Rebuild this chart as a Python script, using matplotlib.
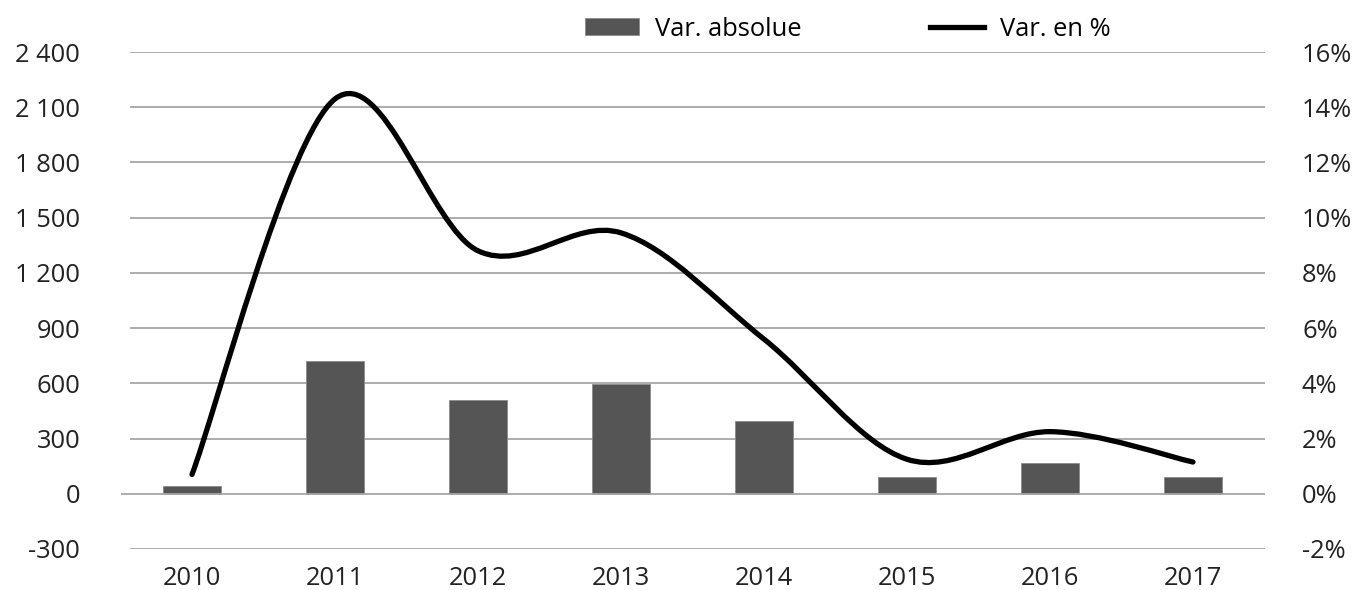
import matplotlib
matplotlib.use("Agg")
from matplotlib import pyplot as plt
from matplotlib.path import Path
from matplotlib.patches import PathPatch, Patch
from matplotlib.lines import Line2D
import numpy as np

# data
years = ["2010", "2011", "2012", "2013", "2014", "2015", "2016", "2017"]
var_abs = [40, 720, 508, 598, 394, 91, 167, 90]
var_pct = [0.7, 14.3, 8.8, 9.45, 5.6, 1.25, 2.25, 1.15]
left_ticks = [-300, 0, 300, 600, 900, 1200, 1500, 1800, 2100, 2400]
right_ticks = [-2, 0, 2, 4, 6, 8, 10, 12, 14, 16]

plt.rcParams['font.family'] = ['Open Sans', 'DejaVu Sans']
W, H = 1358, 590
fig = plt.figure(figsize=(W / 100, H / 100), dpi=100)

# plot area in pixels
x0, x1 = 120.5, 1264.5
ytop, ybot = 52, 549
ax = fig.add_axes([x0 / W, 1 - ybot / H, (x1 - x0) / W, (ybot - ytop) / H])
ax2 = ax.twinx()

xs = np.arange(len(years))
ax.set_xlim(-0.5, len(years) - 0.5)
ax.set_ylim(-300, 2400)
ax2.set_ylim(-2, 16)

grid_col = "#a6a6a6"
for v in left_ticks:
    if v == 0:
        continue
    ax.axhline(v, xmin=0.009, xmax=1.0, color=grid_col, lw=1.3, zorder=0)
ax.axhline(0, xmin=0.0, xmax=1.0, color=grid_col, lw=1.3, zorder=3)

ax.bar(xs, var_abs, width=0.40, color="#555555", edgecolor="#8a8a8a",
       linewidth=0.6, zorder=2)

# smoothed line (Catmull-Rom style bezier, like spreadsheet smoothing)
pts = list(zip(xs.astype(float), var_pct))
verts = [pts[0]]
codes = [Path.MOVETO]
n = len(pts)
for i in range(n - 1):
    p0 = pts[i - 1] if i > 0 else pts[i]
    p1 = pts[i]
    p2 = pts[i + 1]
    p3 = pts[i + 2] if i + 2 < n else pts[i + 1]
    c1 = (p1[0] + (p2[0] - p0[0]) / 6, p1[1] + (p2[1] - p0[1]) / 6)
    c2 = (p2[0] - (p3[0] - p1[0]) / 6, p2[1] - (p3[1] - p1[1]) / 6)
    verts += [c1, c2, p2]
    codes += [Path.CURVE4] * 3
ax2.add_patch(PathPatch(Path(verts, codes), facecolor="none",
                        edgecolor="black", lw=3.8, capstyle="round",
                        zorder=5))

fs = 18.4
tick_kw = dict(labelsize=fs, colors="#222222", length=0)
ax.set_yticks(left_ticks)
ax.set_yticklabels([f"{v:,}".replace(",", " ") for v in left_ticks])
ax.tick_params(axis="y", pad=29, **tick_kw)
ax.set_xticks(xs)
ax.set_xticklabels(years)
ax.tick_params(axis="x", pad=12, **tick_kw)

ax2.set_yticks(right_ticks)
ax2.set_yticklabels([f"{v}%" for v in right_ticks])
ax2.tick_params(axis="y", pad=27, **tick_kw)

for a in (ax, ax2):
    for s in a.spines.values():
        s.set_visible(False)
ax.set_zorder(ax2.get_zorder() - 1)
ax2.patch.set_visible(False)

handles = [Patch(facecolor="#555555", edgecolor="#8a8a8a", lw=0.6),
           Line2D([], [], color="black", lw=3.8)]
fig.legend(handles, ["Var. absolue", "Var. en %"], ncol=2, frameon=False,
           loc="center", bbox_to_anchor=(848 / W, 1 - 29 / H),
           fontsize=fs, handlelength=2.1, handletextpad=0.65,
           columnspacing=5.0, handleheight=0.65)

fig.savefig("out.png", dpi=100)
